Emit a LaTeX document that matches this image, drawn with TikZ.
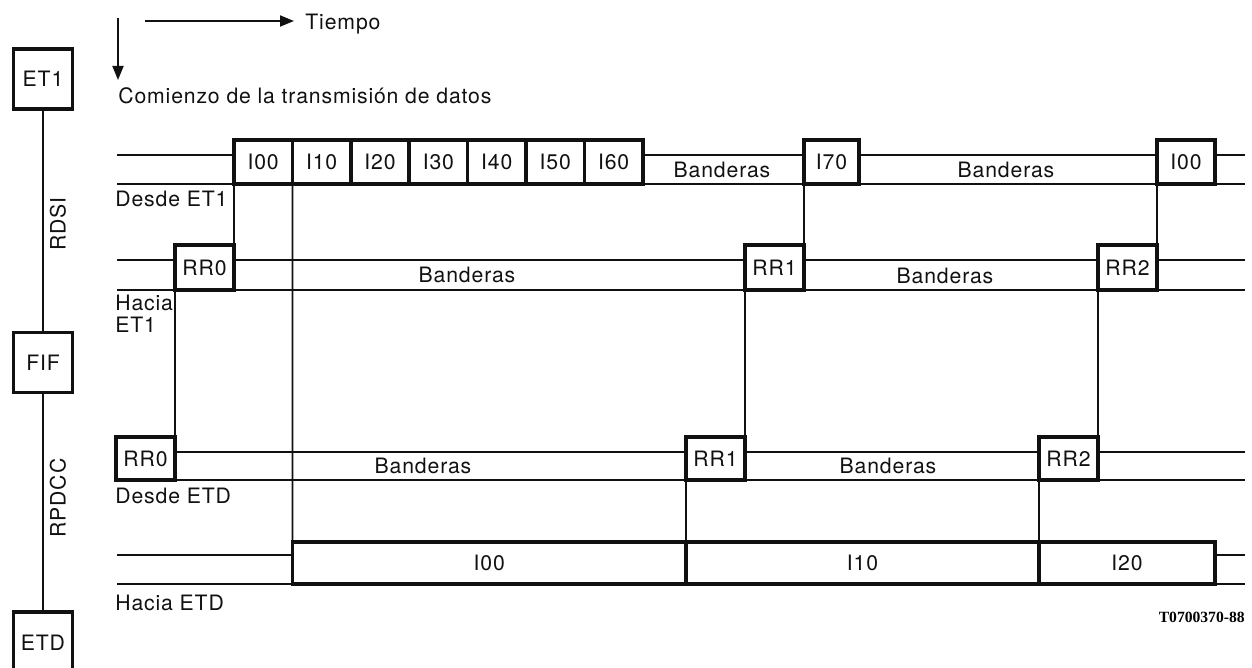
\documentclass[tikz,border=0pt]{standalone}
\usepackage{fontspec}
\setmainfont{TeX Gyre Heros}[LetterSpace=4]
\newfontfamily\codefont{Liberation Serif}
\usetikzlibrary{positioning,arrows.meta}
\definecolor{ink}{HTML}{111111}

\begin{document}
\begin{tikzpicture}[
  x=0.5pt, y=-0.5pt,
  font=\fontsize{10.6}{11}\selectfont\color{ink},
  frame/.style={draw=ink, line width=1.8pt, fill=white, inner sep=0pt,
                outer sep=0pt},
  unit/.style={frame, minimum width=29.5pt, minimum height=30pt},
  iframe/.style={frame, minimum width=29.2pt, minimum height=22pt},
  rframe/.style={frame, minimum width=29.5pt, minimum height=22.5pt},
  dframe/.style={frame, minimum height=21pt},
  txt/.style={inner sep=0pt, align=left},
  sig/.style={draw=ink, line width=0.9pt},
  link/.style={draw=ink, line width=0.9pt},
  arr/.style={-{Triangle[length=7pt, width=5.5pt]}, line width=0.9pt, draw=ink},
]
\useasboundingbox (0,0) rectangle (1252,668);

% ---- Left column: ET1 / FIF / ETD -------------------------------------------
\node[unit] (et1) at (43,79) {ET1};
\node[unit] (fif) at (43,362.5) {FIF};
\node[unit, minimum height=31pt] (etd) at (43,643) {ETD};
\draw[link] (et1) -- (fif);
\draw[link] (fif) -- (etd);
\node[txt, rotate=90] (rdsi) at (58,224) {RDSI};
\node[txt, rotate=90] (rpdcc) at (58,498) {RPDCC};

% ---- Time axes ----------------------------------------------------------------
\coordinate (down0) at (118,18);
\coordinate (down1) at (118,80);
\draw[arr] (down0) -- (down1);
\coordinate (time0) at (145,21);
\coordinate (time1) at (294,21);
\draw[arr] (time0) -- (time1);
\node[txt, anchor=west] (tiempo) at (305,24) {Tiempo};
\node[txt, anchor=west] (start) at (118,96) {Comienzo de la transmisión de datos};

% ---- Signal lines -------------------------------------------------------------
\foreach \y [count=\n] in {155,184,260,290,452,480,555,584} {
  \coordinate (w\n) at (117,\y);
  \coordinate (e\n) at (1245,\y);
  \draw[sig] (w\n) -- (e\n);
}

% ---- Desde ET1 ----------------------------------------------------------------
\node[iframe, anchor=south west] (a0) at (234,184) {I00};
\node[iframe, right=0pt of a0] (a1) {I10};
\node[iframe, right=0pt of a1] (a2) {I20};
\node[iframe, right=0pt of a2] (a3) {I30};
\node[iframe, right=0pt of a3] (a4) {I40};
\node[iframe, right=0pt of a4] (a5) {I50};
\node[iframe, right=0pt of a5] (a6) {I60};
\node[iframe, minimum width=27.5pt, anchor=south west] (a7) at (804,184) {I70};
\node[iframe, minimum width=29pt, anchor=south west] (a8) at (1157,184) {I00};
\node[txt] (flag1) at (722,170) {Banderas};
\node[txt] (flag2) at (1006,170) {Banderas};
\node[txt, anchor=west] (desde1) at (115,199) {Desde ET1};

% ---- Hacia ET1 ----------------------------------------------------------------
\node[rframe, anchor=south west] (b0) at (175,290) {RR0};
\node[rframe, anchor=south west] (b1) at (745,290) {RR1};
\node[rframe, anchor=south west] (b2) at (1098,290) {RR2};
\node[txt] (flag3) at (467,275) {Banderas};
\node[txt] (flag4) at (945,276) {Banderas};
\node[txt, anchor=north west] (hacia1) at (115,295) {Hacia\\ET1};

% ---- Desde ETD ----------------------------------------------------------------
\node[rframe, minimum height=21.5pt, anchor=south east] (c0) at (175,480) {RR0};
\node[rframe, minimum height=21.5pt, anchor=south east] (c1) at (745,480) {RR1};
\node[rframe, minimum height=21.5pt, anchor=south east] (c2) at (1098,480) {RR2};
\node[txt] (flag5) at (423,466) {Banderas};
\node[txt] (flag6) at (888,466) {Banderas};
\node[txt, anchor=west] (desde2) at (115,496) {Desde ETD};

% ---- Hacia ETD ----------------------------------------------------------------
\node[dframe, minimum width=196.8pt, anchor=south west] (d0) at (292.4,584) {I00};
\node[dframe, minimum width=176.5pt, right=0pt of d0] (d1) {I10};
\node[dframe, minimum width=88pt, right=0pt of d1] (d2) {I20};
\node[txt, anchor=west] (hacia2) at (115,603) {Hacia ETD};

% ---- Links between the rows ---------------------------------------------------
\draw[link] (c0.north east) -- (b0.south west);
\draw[link] (b0.north east) -- (a0.south west);
\draw[link] (a1.south west) -- (d0.north west);
\draw[link] (c1.north east) -- (b1.south west);
\draw[link] (b1.north east) -- (a7.south west);
\draw[link] (c1.south west) -- (d1.north west);
\draw[link] (c2.north east) -- (b2.south west);
\draw[link] (b2.north east) -- (a8.south west);
\draw[link] (c2.south west) -- (d2.north west);

\node[txt, anchor=east, font=\codefont\bfseries\fontsize{7.8}{9}\selectfont]
  (code) at (1245,617) {T0700370-88};

\end{tikzpicture}
\end{document}
